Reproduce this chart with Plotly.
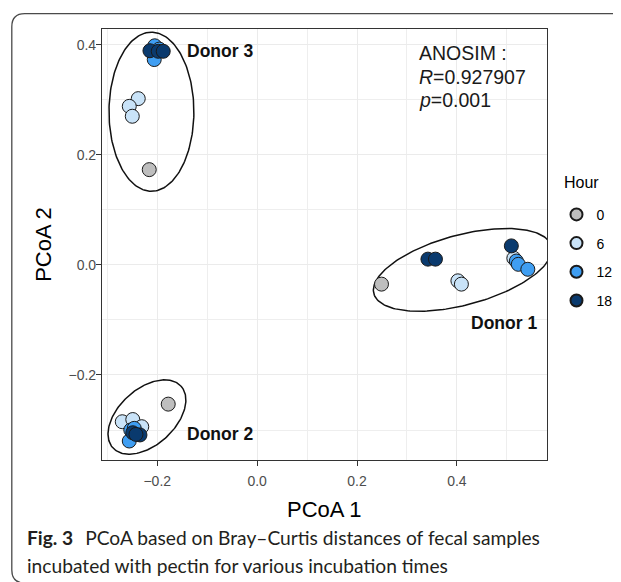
import plotly.graph_objects as go
import numpy as np

# ---------------- data ----------------
hours = ["0", "6", "12", "18"]
hour_colors = ["#bebebe", "#c9e3f8", "#3f9ef2", "#0a3a6e"]

# PCoA coordinates per hour (all donors), x = PCoA 1, y = PCoA 2
pc1_h0 = [-0.216, -0.178, 0.249]
pc2_h0 = [0.173, -0.253, -0.035]

pc1_h6 = [-0.238, -0.256, -0.250, -0.270, -0.249, -0.231, 0.402, 0.409, 0.514]
pc2_h6 = [0.302, 0.288, 0.270, -0.285, -0.281, -0.294, -0.029, -0.035, 0.012]

pc1_h12 = [-0.206, -0.205, -0.196, -0.256, -0.253, -0.246, 0.519, 0.523, 0.542]
pc2_h12 = [0.373, 0.398, 0.392, -0.320, -0.300, -0.297, 0.007, 0.001, -0.008]

pc1_h18 = [-0.2146, -0.198, -0.188, -0.249, -0.2346, -0.2426, 0.342, 0.357, 0.509]
pc2_h18 = [0.389, 0.388, 0.388, -0.305, -0.309, -0.308, 0.0104, 0.0104, 0.0345]

pc1_by_hour = [pc1_h0, pc1_h6, pc1_h12, pc1_h18]
pc2_by_hour = [pc2_h0, pc2_h6, pc2_h12, pc2_h18]

x_ticks = [-0.2, 0.0, 0.2, 0.4]
x_tick_labels = ["\u22120.2", "0.0", "0.2", "0.4"]
y_ticks = [-0.2, 0.0, 0.2, 0.4]
y_tick_labels = ["\u22120.2", "0.0", "0.2", "0.4"]

donor_labels = ["Donor 3", "Donor 2", "Donor 1"]
donor_label_x = [-0.0736, -0.0736, 0.4948]
donor_label_y = [0.389, -0.308, -0.106]

anosim_lines = ["ANOSIM :", "<i>R</i>=0.927907", "<i>p</i>=0.001"]

# hand-drawn group ellipses: centre (data), semi-axes (screen px), angle (deg)
ell_cx = [-0.2116, -0.2206, 0.4114]
ell_cy = [0.2782, -0.2764, -0.0091]
ell_a_px = [79.5, 46, 92]
ell_b_px = [42.5, 28, 35]
ell_angle = [90, 42, 15]

# ---------------- layout geometry (window pixel coordinates) ----------------
W, H = 621, 582
OFF = 8                      # default page body margin
L, T = 102, 29.3             # plot area left / top in window px
PLOT_R, PLOT_B = 547.5, 460  # plot area right / bottom in window px
PW, PH = PLOT_R - L, PLOT_B - T
FIG_W, FIG_H = W - OFF, H - OFF
XR = [-0.3106, 0.5804]
YR = [-0.3545, 0.4285]
px_per_x = PW / (XR[1] - XR[0])
px_per_y = PH / (YR[1] - YR[0])


def px2paper_x(px):
    return (px - L) / PW


def px2paper_y(py):
    return (PLOT_B - py) / PH


fig = go.Figure()

# ellipses
t = np.linspace(0, 2 * np.pi, 200)
for cx, cy, a, b, ang in zip(ell_cx, ell_cy, ell_a_px, ell_b_px, ell_angle):
    th = np.deg2rad(ang)
    dx = a * np.cos(t) * np.cos(th) - b * np.sin(t) * np.sin(th)
    dy = a * np.cos(t) * np.sin(th) + b * np.sin(t) * np.cos(th)
    fig.add_trace(go.Scatter(
        x=cx + dx / px_per_x, y=cy + dy / px_per_y, mode="lines",
        line=dict(color="#111111", width=1.5), showlegend=False,
        hoverinfo="skip"))

# points
for h, c, xs, ys in zip(hours, hour_colors, pc1_by_hour, pc2_by_hour):
    fig.add_trace(go.Scatter(
        x=xs, y=ys, mode="markers", name=h, legendgroup=h,
        marker=dict(size=14, color=c, line=dict(color="#1a1a1a", width=1))))

axis_common = dict(
    showgrid=True, gridcolor="#ebebeb", gridwidth=1.3,
    zeroline=False, showline=True, mirror=True, linecolor="#333333",
    linewidth=1.2, ticks="outside", ticklen=5, tickwidth=1.2,
    tickcolor="#333333",
    tickfont=dict(family="Liberation Sans, Arial", size=14, color="#4d4d4d"),
)
fig.update_xaxes(range=XR, tickvals=x_ticks, ticktext=x_tick_labels,
                 ticklabelstandoff=3,
                 minor=dict(dtick=0.1, tick0=0.1, showgrid=True,
                            gridcolor="#eeeeee", gridwidth=0.8, ticks=""),
                 **axis_common)
fig.update_yaxes(range=YR, tickvals=y_ticks, ticktext=y_tick_labels,
                 ticklabelstandoff=-3,
                 minor=dict(dtick=0.1, tick0=0.1, showgrid=True,
                            gridcolor="#eeeeee", gridwidth=0.8, ticks=""),
                 **axis_common)

ann = []
for txt, x, y in zip(donor_labels, donor_label_x, donor_label_y):
    ann.append(dict(x=x, y=y, xref="x", yref="y", text="<b>" + txt + "</b>",
                    showarrow=False, xanchor="center", yanchor="middle",
                    font=dict(family="Liberation Sans, Arial", size=17.5,
                              color="#111111")))
for i, line in enumerate(anosim_lines):
    ann.append(dict(x=px2paper_x(417.3), y=px2paper_y(53.3 + 23.7 * i),
                    xref="paper", yref="paper", text=line, showarrow=False,
                    xanchor="left", yanchor="middle",
                    font=dict(family="Liberation Sans, Arial", size=19.5,
                              color="#1a1a1a")))
# axis titles
ann.append(dict(x=0.5, y=px2paper_y(509), xref="paper", yref="paper",
                text="PCoA 1", showarrow=False, xanchor="center",
                yanchor="middle",
                font=dict(family="Liberation Sans, Arial", size=22,
                          color="#000000")))
ann.append(dict(x=px2paper_x(43.3), y=0.5, xref="paper", yref="paper",
                text="PCoA 2", showarrow=False, xanchor="center",
                yanchor="middle", textangle=-90,
                font=dict(family="Liberation Sans, Arial", size=22,
                          color="#000000")))
# legend title
ann.append(dict(x=px2paper_x(562.7), y=px2paper_y(182.7), xref="paper",
                yref="paper", text="Hour", showarrow=False, xanchor="left",
                yanchor="middle",
                font=dict(family="Liberation Sans, Arial", size=16,
                          color="#000000")))
# caption
cap_font = dict(family="Lato, Noto Sans", size=19.2, color="#231f20")
ann.append(dict(x=px2paper_x(25), y=px2paper_y(537), xref="paper",
                yref="paper",
                text="<b>Fig. 3</b>\u2002\u2009PCoA based on Bray\u2013Curtis distances of fecal samples",
                showarrow=False, xanchor="left", yanchor="middle",
                font=cap_font))
ann.append(dict(x=px2paper_x(25), y=px2paper_y(565), xref="paper",
                yref="paper",
                text="incubated with pectin for various incubation times",
                showarrow=False, xanchor="left", yanchor="middle",
                font=cap_font))

# outer rounded frame of the figure panel
x0, y0, rr = 11.7, 14, 13
path = (f"M {px2paper_x(W + 2)},{px2paper_y(y0)} "
        f"L {px2paper_x(x0 + rr)},{px2paper_y(y0)} "
        f"Q {px2paper_x(x0)},{px2paper_y(y0)} {px2paper_x(x0)},{px2paper_y(y0 + rr)} "
        f"L {px2paper_x(x0)},{px2paper_y(H - 12)} "
        f"Q {px2paper_x(x0)},{px2paper_y(H + 1)} {px2paper_x(x0 + rr)},{px2paper_y(H + 1)}")
shapes = [dict(type="path", path=path, xref="paper", yref="paper",
               line=dict(color="#4a4a4a", width=1.3), layer="above")]

fig.update_layout(
    width=FIG_W, height=FIG_H,
    margin=dict(l=L - OFF, r=FIG_W - (PLOT_R - OFF), t=T - OFF,
                b=FIG_H - (PLOT_B - OFF), pad=0, autoexpand=False),
    paper_bgcolor="white", plot_bgcolor="white",
    annotations=ann, shapes=shapes,
    showlegend=True,
    legend=dict(x=px2paper_x(557), y=px2paper_y(199), xanchor="left",
                yanchor="top", itemsizing="constant", tracegroupgap=7.5,
                font=dict(family="Liberation Sans, Arial", size=14,
                          color="#000000"),
                bgcolor="rgba(0,0,0,0)"),
)

fig.write_html("out.html")
